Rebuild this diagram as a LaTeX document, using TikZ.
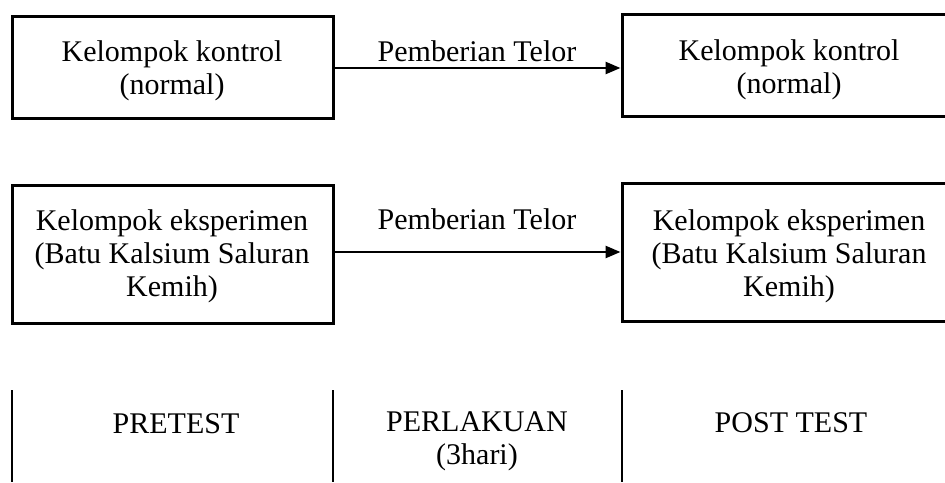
\documentclass[tikz,border=0pt]{standalone}
\usepackage{fontspec}
\setmainfont{Liberation Serif}
\usetikzlibrary{arrows.meta}
\begin{document}
\begin{tikzpicture}[x=1pt,y=-1pt,
  txt/.style={font=\fontsize{30}{33}\selectfont, align=center, inner sep=0pt},
  grpbox/.style={draw, line width=3pt, minimum width=321pt, inner sep=0pt},
  grpboxr/.style={draw, line width=3pt, minimum width=353pt, inner sep=0pt},
  flow/.style={line width=2.6pt, -{Triangle[length=15pt,width=12pt]}},
  divider/.style={line width=1.8pt}]
\useasboundingbox (0,0) rectangle (945,482);
\clip (0,0) rectangle (945,482);
% row 1
\node[grpbox, minimum height=102pt] (a1) at (172.5,67) {};
\node[txt] (a1t) at (172,71) {Kelompok kontrol\\(normal)};
\node[grpboxr, minimum height=102pt] (b1) at (798.5,65.5) {};
\node[txt] (b1t) at (789,70) {Kelompok kontrol\\(normal)};
\draw[flow] (a1.east |- 0,68) -- (b1.west |- 0,68);
\node[txt] (l1) at (477,51) {Pemberian Telor};
% row 2
\node[grpbox, minimum height=138pt] (a2) at (172.5,254) {};
\node[txt] (a2t) at (172,256) {Kelompok eksperimen\\(Batu Kalsium Saluran\\Kemih)};
\node[grpboxr, minimum height=138pt] (b2) at (798.5,252) {};
\node[txt] (b2t) at (789,256) {Kelompok eksperimen\\(Batu Kalsium Saluran\\Kemih)};
\draw[flow] (a2.east |- 0,252) -- (b2.west |- 0,252);
\node[txt] (l2) at (477,219) {Pemberian Telor};
% bottom
\coordinate (v1t) at (12,390); \coordinate (v1b) at (12,482);
\coordinate (v2t) at (333,390); \coordinate (v2b) at (333,482);
\coordinate (v3t) at (622,390); \coordinate (v3b) at (622,482);
\draw[divider] (v1t) -- (v1b);
\draw[divider] (v2t) -- (v2b);
\draw[divider] (v3t) -- (v3b);
\node[txt] (pre) at (176,424) {PRETEST};
\node[txt] (per) at (477,441) {PERLAKUAN\\(3hari)};
\node[txt] (post) at (791,423) {POST TEST};
\end{tikzpicture}
\end{document}
